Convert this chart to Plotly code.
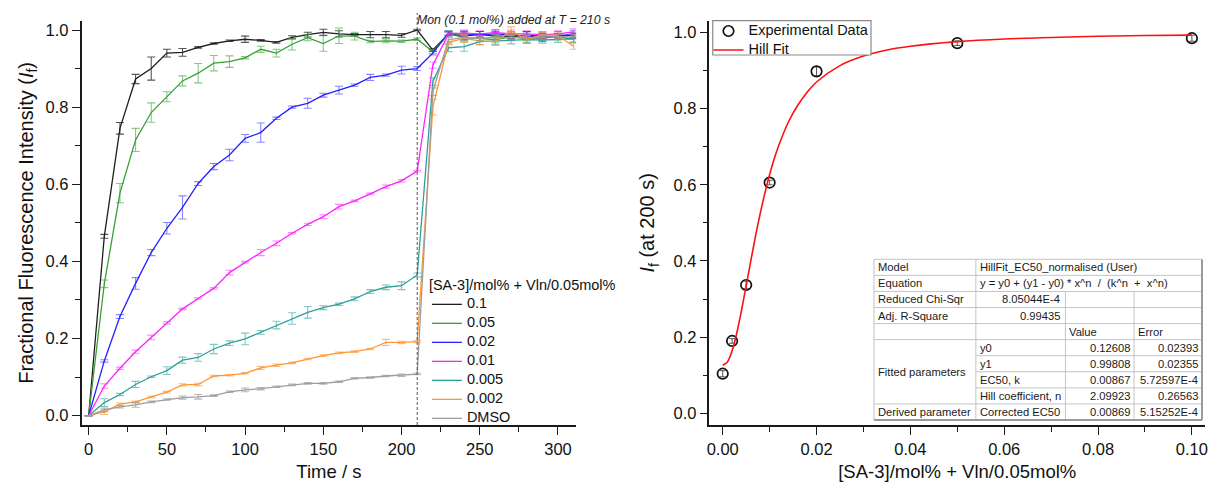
import plotly.graph_objects as go

W, H = 1211, 485

# ---------------- data: left panel ----------------
time_s = [0, 10, 20, 30, 40, 50, 60, 70, 80, 90, 100, 110, 120, 130, 140, 150,
          160, 170, 180, 190, 200, 210, 220, 230, 240, 250, 260, 270, 280, 290, 300, 310]

series_labels = ["0.1", "0.05", "0.02", "0.01", "0.005", "0.002", "DMSO"]

if_0_1 = [0, 0.465, 0.745, 0.873, 0.900, 0.940, 0.942, 0.955, 0.965, 0.972, 0.976, 0.973,
          0.968, 0.981, 0.988, 0.994, 0.990, 0.988, 0.988, 0.988, 0.986, 1.000,
          0.948, 0.990, 0.985, 0.988, 0.985, 0.983, 0.986, 0.984, 0.985, 0.986]
err_0_1 = [0, 0.005, 0.015, 0.012, 0.030, 0.010, 0.010, 0.002, 0.002, 0.002, 0.008, 0.002,
           0.002, 0.004, 0.006, 0.008, 0.008, 0.003, 0.008, 0.008, 0.005, 0.002,
           0.003, 0.005, 0.010, 0.008, 0.010, 0.006, 0.010, 0.008, 0.006, 0.006]

if_0_05 = [0, 0.342, 0.577, 0.715, 0.786, 0.827, 0.868, 0.888, 0.914, 0.918, 0.928, 0.950,
           0.940, 0.963, 0.980, 0.965, 0.985, 0.984, 0.970, 0.972, 0.971, 0.976,
           0.944, 0.990, 0.980, 0.978, 0.975, 0.982, 0.978, 0.980, 0.982, 0.976]
err_0_05 = [0, 0.010, 0.025, 0.030, 0.025, 0.013, 0.013, 0.025, 0.020, 0.015, 0.003, 0.008,
            0.010, 0.015, 0.008, 0.020, 0.020, 0.010, 0.003, 0.005, 0.003, 0.003,
            0.005, 0.008, 0.008, 0.006, 0.008, 0.010, 0.010, 0.008, 0.008, 0.008]

if_0_02 = [0, 0.142, 0.257, 0.343, 0.423, 0.486, 0.540, 0.602, 0.646, 0.676, 0.719, 0.734,
           0.771, 0.800, 0.810, 0.831, 0.844, 0.857, 0.877, 0.883, 0.896, 0.900,
           0.940, 0.992, 0.990, 0.988, 0.990, 0.988, 0.985, 0.978, 0.986, 0.988]
err_0_02 = [0, 0.003, 0.005, 0.015, 0.008, 0.015, 0.030, 0.005, 0.008, 0.015, 0.010, 0.025,
            0.003, 0.003, 0.013, 0.005, 0.010, 0.003, 0.008, 0.003, 0.010, 0.005,
            0.005, 0.005, 0.008, 0.008, 0.010, 0.008, 0.010, 0.008, 0.010, 0.010]

if_0_01 = [0, 0.077, 0.123, 0.166, 0.203, 0.241, 0.277, 0.304, 0.330, 0.371, 0.398, 0.423,
           0.447, 0.473, 0.496, 0.516, 0.542, 0.557, 0.575, 0.594, 0.609, 0.634,
           0.909, 0.990, 0.992, 0.990, 0.993, 0.990, 0.990, 0.988, 0.990, 0.995]
err_0_01 = [0, 0.006, 0.003, 0.004, 0.006, 0.003, 0.002, 0.002, 0.002, 0.006, 0.002, 0.008,
            0.006, 0.002, 0.003, 0.005, 0.006, 0.002, 0.002, 0.004, 0.003, 0.002,
            0.008, 0.005, 0.008, 0.008, 0.008, 0.010, 0.008, 0.008, 0.008, 0.008]

if_0_005 = [0, 0.034, 0.055, 0.081, 0.101, 0.117, 0.144, 0.151, 0.173, 0.188, 0.199, 0.216,
            0.235, 0.252, 0.268, 0.280, 0.289, 0.303, 0.322, 0.333, 0.337, 0.365,
            0.866, 0.954, 0.957, 0.970, 0.972, 0.974, 0.975, 0.974, 0.976, 0.977]
err_0_005 = [0, 0.010, 0.003, 0.008, 0.002, 0.010, 0.008, 0.010, 0.012, 0.006, 0.015, 0.005,
             0.010, 0.015, 0.015, 0.005, 0.003, 0.005, 0.005, 0.006, 0.010, 0.005,
             0.010, 0.010, 0.012, 0.008, 0.010, 0.010, 0.010, 0.008, 0.008, 0.008]

if_0_002 = [0, 0.010, 0.030, 0.036, 0.049, 0.061, 0.080, 0.081, 0.103, 0.105, 0.110, 0.124,
            0.131, 0.137, 0.147, 0.156, 0.163, 0.166, 0.173, 0.190, 0.190, 0.192,
            0.800, 0.968, 0.978, 0.972, 0.970, 0.998, 0.975, 0.987, 0.985, 0.958]
err_0_002 = [0, 0.007, 0.003, 0.002, 0.002, 0.002, 0.003, 0.003, 0.002, 0.002, 0.002, 0.004,
             0.003, 0.002, 0.002, 0.002, 0.002, 0.002, 0.002, 0.008, 0.003, 0.003,
             0.020, 0.006, 0.010, 0.010, 0.010, 0.010, 0.010, 0.008, 0.008, 0.008]

if_dmso = [0, 0.015, 0.023, 0.028, 0.036, 0.042, 0.047, 0.049, 0.052, 0.062, 0.067, 0.070,
           0.075, 0.080, 0.084, 0.084, 0.088, 0.097, 0.099, 0.103, 0.105, 0.108,
           0.840, 0.975, 0.980, 0.978, 0.982, 0.980, 0.980, 0.982, 0.983, 0.982]
err_dmso = [0, 0.005, 0.003, 0.006, 0.002, 0.002, 0.004, 0.006, 0.002, 0.002, 0.005, 0.003,
            0.002, 0.002, 0.002, 0.002, 0.002, 0.002, 0.002, 0.002, 0.003, 0.002,
            0.010, 0.006, 0.006, 0.006, 0.006, 0.006, 0.006, 0.006, 0.006, 0.006]

series_values = [if_0_1, if_0_05, if_0_02, if_0_01, if_0_005, if_0_002, if_dmso]
series_errors = [err_0_1, err_0_05, err_0_02, err_0_01, err_0_005, err_0_002, err_dmso]
series_colors = ["#1e1e1e", "#35a035", "#2222ff", "#ff22ff", "#2b9f9b", "#ff9633", "#9e9e9e"]
series_err_colors = ["rgba(30,30,30,0.75)", "rgba(53,160,53,0.6)", "rgba(34,34,255,0.55)",
                     "rgba(255,34,255,0.55)", "rgba(43,159,155,0.6)", "rgba(255,150,51,0.65)",
                     "rgba(150,150,150,0.7)"]

addition_time = 210

# ---------------- data: right panel ----------------
conc = [0, 0.002, 0.005, 0.01, 0.02, 0.05, 0.1]
if_200 = [0.104, 0.190, 0.337, 0.606, 0.898, 0.972, 0.985]
if_200_err = [0.008, 0.006, 0.010, 0.006, 0.012, 0.006, 0.008]

fit_x = [0, 0.001, 0.002, 0.003, 0.004, 0.005, 0.006, 0.007, 0.008, 0.009, 0.010, 0.011,
         0.012, 0.014, 0.016, 0.018, 0.020, 0.025, 0.030, 0.035, 0.040, 0.050, 0.060,
         0.070, 0.080, 0.090, 0.100]
fit_y = [0.126, 0.135, 0.164, 0.211, 0.270, 0.335, 0.401, 0.466, 0.525, 0.579, 0.627, 0.669,
         0.705, 0.765, 0.809, 0.843, 0.870, 0.913, 0.938, 0.954, 0.964, 0.976, 0.983,
         0.987, 0.990, 0.992, 0.993]

# table contents
tbl_model = "HillFit_EC50_normalised (User)"
tbl_equation = "y = y0 + (y1 - y0) * x^n \u00a0/\u00a0 (k^n \u00a0+\u00a0 x^n)"
tbl_chisqr = "8.05044E-4"
tbl_adjr2 = "0.99435"
param_names = ["y0", "y1", "EC50, k", "Hill coefficient, n"]
param_values = ["0.12608", "0.99808", "0.00867", "2.09923"]
param_errors = ["0.02393", "0.02355", "5.72597E-4", "0.26563"]
derived_name = "Corrected EC50"
derived_value = "0.00869"
derived_error = "5.15252E-4"


def px(x):
    return x / W


def py(y):
    return 1 - y / H


FONT = "Arial, 'Liberation Sans', sans-serif"
AX = "#1a1a1a"

fig = go.Figure()

for lab, vals, errs, col, ecol in zip(series_labels, series_values, series_errors,
                                      series_colors, series_err_colors):
    fig.add_trace(go.Scatter(
        x=time_s, y=vals, mode="lines",
        name='<span style="font-size:14.5px">' + lab + '</span>',
        line=dict(color=col, width=1.3),
        error_y=dict(type="data", array=errs, visible=True, color=ecol, thickness=1.1, width=4),
        xaxis="x", yaxis="y", legend="legend",
    ))

fig.add_trace(go.Scatter(
    x=conc, y=if_200, mode="markers",
    name='<span style="font-size:14.5px">Experimental Data</span>',
    marker=dict(symbol="circle-open", size=10.5, color="#111", line=dict(width=1.7, color="#111")),
    error_y=dict(type="data", array=if_200_err, visible=True, color="#555", thickness=1, width=3),
    xaxis="x2", yaxis="y2", legend="legend2",
))
fig.add_trace(go.Scatter(
    x=fit_x, y=fit_y, mode="lines", line_shape="spline",
    name='<span style="font-size:14.5px">Hill Fit</span>',
    line=dict(color="#ff1010", width=1.6),
    xaxis="x2", yaxis="y2", legend="legend2",
))

axis_common = dict(showline=True, linewidth=1.5, linecolor=AX, ticks="outside", ticklen=8,
                   tickwidth=1.4, tickcolor=AX, showgrid=False, zeroline=False, mirror=False,
                   tickfont=dict(size=16.5, color="#111"))

ydom = [py(425), py(20.7)]

fig.update_layout(
    width=W, height=H,
    margin=dict(l=0, r=0, t=0, b=0, pad=0),
    paper_bgcolor="white", plot_bgcolor="white",
    font=dict(family=FONT, size=16, color="#111"),
    xaxis=dict(domain=[px(79), px(576)], range=[-4.5, 311.6], tick0=0, dtick=50,
               minor=dict(dtick=25, ticks="outside", ticklen=5, tickwidth=1.4, tickcolor=AX),
               title=dict(text="Time / s", font=dict(size=18.5), standoff=9),
               anchor="y", **axis_common),
    yaxis=dict(domain=ydom, range=[-0.0241, 1.0241], tick0=0, dtick=0.2, tickformat=".1f",
               minor=dict(dtick=0.1, ticks="outside", ticklen=5, tickwidth=1.4, tickcolor=AX),
               title=dict(text="Fractional Fluorescence Intensity (<i>I</i><sub>f</sub>)",
                          font=dict(size=20), standoff=7),
               anchor="x", **axis_common),
    xaxis2=dict(domain=[px(710), px(1208)], range=[-0.00282, 0.1028], tick0=0, dtick=0.02,
                tickformat=".2f",
                minor=dict(dtick=0.01, ticks="outside", ticklen=5, tickwidth=1.4, tickcolor=AX),
                title=dict(text="[SA-3]/mol% + Vln/0.05mol%", font=dict(size=18.5), standoff=9),
                anchor="y2", **axis_common),
    yaxis2=dict(domain=ydom, range=[-0.0307, 1.031], tick0=0, dtick=0.2, tickformat=".1f",
                minor=dict(dtick=0.1, ticks="outside", ticklen=5, tickwidth=1.4, tickcolor=AX),
                title=dict(text="<i>I</i><sub>f</sub> (at 200 s)", font=dict(size=20), standoff=13),
                anchor="x2", **axis_common),
    legend=dict(x=px(426), y=py(271), xanchor="left", yanchor="top",
                bgcolor="rgba(0,0,0,0)", borderwidth=0, font=dict(size=10, color="#111"),
                title=dict(text="[SA-3]/mol% + Vln/0.05mol%", font=dict(size=14.5, color="#111")),
                itemwidth=30, tracegroupgap=0, traceorder="normal"),
    legend2=dict(x=px(709), y=py(16.5), xanchor="left", yanchor="top",
                 bgcolor="rgba(0,0,0,0)", borderwidth=0,
                 font=dict(size=10, color="#111"), itemwidth=30, tracegroupgap=0),
    showlegend=True,
)

# frame behind the right-hand legend
fig.add_shape(type="rect", xref="paper", yref="paper", x0=px(713.3), x1=px(872.3),
              y0=py(55), y1=py(20.7), line=dict(color="#8a8a8a", width=1.2),
              fillcolor="white", layer="above")

# vertical dashed marker at monomer addition
fig.add_shape(type="line", xref="x", yref="paper", x0=addition_time, x1=addition_time,
              y0=py(425), y1=py(13), line=dict(color="#555", width=1, dash="3px,2px"))
fig.add_annotation(xref="paper", yref="paper", x=px(512.7), y=py(20), xanchor="center",
                   yanchor="middle", showarrow=False,
                   text="<i>Mon (0.1 mol%) added at T = " + str(addition_time) + " s</i>",
                   font=dict(size=12.3, color="#222"))

# ---------------- results table (shapes + text) ----------------
TL, C1, C2, C3, TR = 875.3, 977.7, 1067.7, 1136.7, 1205
TT, RH = 259.3, 16.07
rows = [TT + RH * i for i in range(11)]
LC = "#c4c4c4"

fig.add_shape(type="rect", xref="paper", yref="paper", x0=px(TL), x1=px(TR), y0=py(rows[10]),
              y1=py(TT), line=dict(width=0), fillcolor="white", layer="above")


def hline(y, x0, x1, color=LC, w=1):
    fig.add_shape(type="line", xref="paper", yref="paper", x0=px(x0), x1=px(x1), y0=py(y),
                  y1=py(y), line=dict(color=color, width=w), layer="above")


def vline(x, y0, y1, color=LC, w=1):
    fig.add_shape(type="line", xref="paper", yref="paper", x0=px(x), x1=px(x), y0=py(y0),
                  y1=py(y1), line=dict(color=color, width=w), layer="above")


for i in [0, 1, 2, 3, 4, 5, 9]:
    hline(rows[i], TL, TR)
for i in [6, 7, 8]:
    hline(rows[i], C1, TR)
vline(TL, rows[0], rows[10])
vline(C1, rows[0], rows[10])
vline(C2, rows[2], rows[10])
vline(C3, rows[2], rows[10])
hline(rows[10], TL, TR, color="#9a9a9a", w=2)
vline(TR, rows[0], rows[10], color="#9a9a9a", w=2)

TFS = 11.2


def cell(text, x, row_center, anchor):
    fig.add_annotation(xref="paper", yref="paper", x=px(x), y=py(row_center), text=text,
                       xanchor=anchor, yanchor="middle", showarrow=False,
                       font=dict(size=TFS, color="#1a1a1a"), borderpad=0)


def rc(i):
    return rows[i] + RH / 2


cell("Model", TL + 3, rc(0), "left")
cell(tbl_model, C1 + 3, rc(0), "left")
cell("Equation", TL + 3, rc(1), "left")
cell(tbl_equation, C1 + 3, rc(1), "left")
cell("Reduced Chi-Sqr", TL + 3, rc(2), "left")
cell(tbl_chisqr, C2 - 4, rc(2), "right")
cell("Adj. R-Square", TL + 3, rc(3), "left")
cell(tbl_adjr2, C2 - 4, rc(3), "right")
cell("Value", C2 + 3, rc(4), "left")
cell("Error", C3 + 3, rc(4), "left")
cell("Fitted parameters", TL + 3, (rows[5] + rows[9]) / 2, "left")
for k in range(4):
    cell(param_names[k], C1 + 3, rc(5 + k), "left")
    cell(param_values[k], C3 - 3, rc(5 + k), "right")
    cell(param_errors[k], TR - 3, rc(5 + k), "right")
cell("Derived parameter", TL + 3, rc(9), "left")
cell(derived_name, C1 + 3, rc(9), "left")
cell(derived_value, C3 - 3, rc(9), "right")
cell(derived_error, TR - 3, rc(9), "right")

fig.write_html("out.html")
